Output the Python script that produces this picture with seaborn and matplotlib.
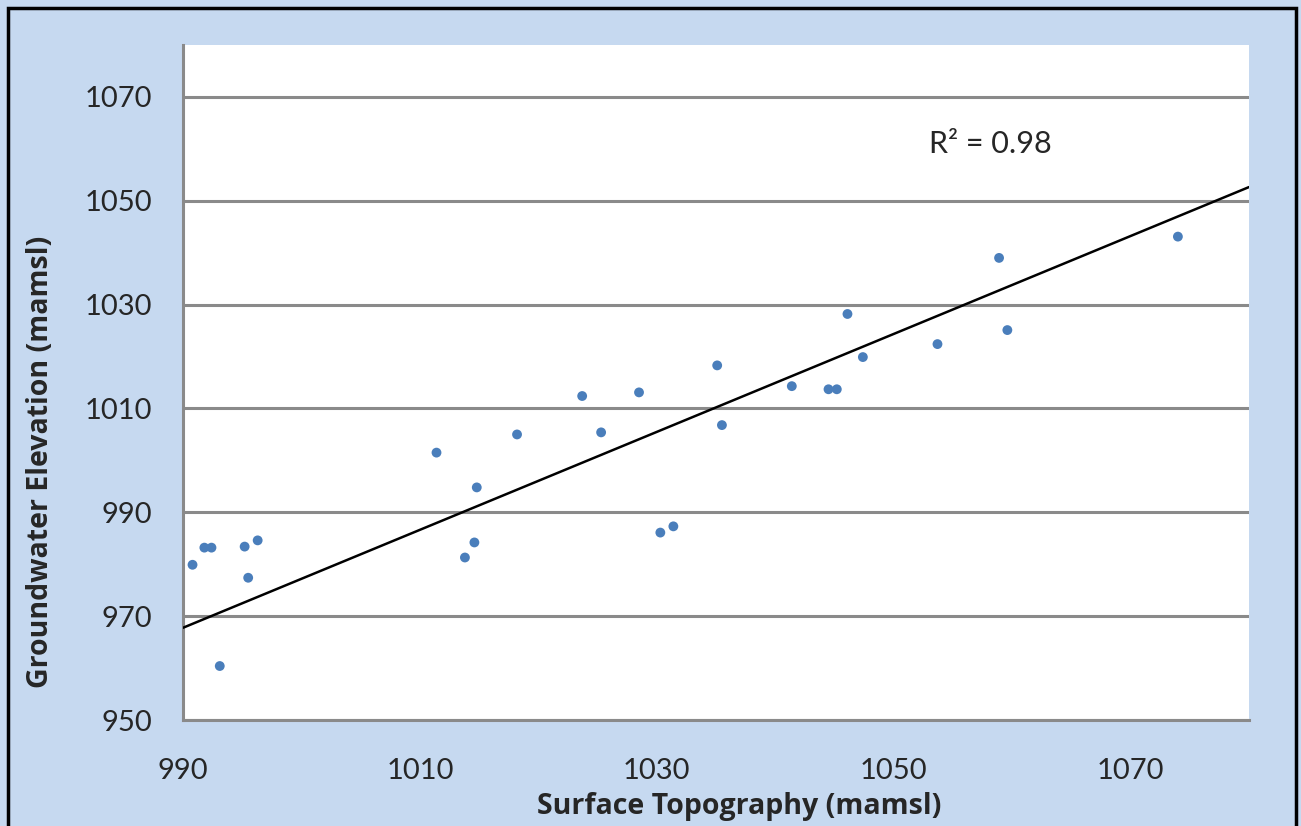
"""
Groundwater elevation against surface topography, with linear trend
"""
import numpy as np
import pandas as pd
import seaborn as sns
import matplotlib.pyplot as plt
from matplotlib.patches import Rectangle

# Data (mamsl)
surface = [990.8, 991.8, 992.4, 993.1, 995.2, 995.5, 996.3, 1011.4, 1013.8, 1014.6,
           1014.8, 1018.2, 1023.7, 1025.3, 1028.5, 1030.3, 1031.4, 1035.1, 1035.5, 1041.4,
           1044.5, 1045.2, 1046.1, 1047.4, 1053.7, 1058.9, 1059.6, 1074.0]
groundwater = [979.9, 983.2, 983.2, 960.4, 983.4, 977.4, 984.6, 1001.5, 981.3, 984.2,
               994.8, 1005.0, 1012.4, 1005.4, 1013.1, 986.1, 987.3, 1018.3, 1006.8, 1014.3,
               1013.7, 1013.7, 1028.2, 1019.9, 1022.4, 1039.0, 1025.1, 1043.1]
x_ticks = [990, 1010, 1030, 1050, 1070]
y_ticks = [950, 970, 990, 1010, 1030, 1050, 1070]

# trendline as drawn in the original (Excel linear trend)
trend_slope = 0.943
trend_intercept = 34.2
r2_label = "R² = 0.98"

df = pd.DataFrame({'surface': surface, 'groundwater': groundwater})

sns.set_theme()
sns.set_style("white")
plt.rcParams['font.family'] = ['Lato', 'DejaVu Sans']

bg = '#c6d9f0'
grid_col = '#8a8a8a'
txt = '#262626'
label_font = ['Open Sans', 'DejaVu Sans']

fig = plt.figure(figsize=(13.01, 8.26), dpi=100, facecolor=bg)
ax = fig.add_axes([0.1407, 0.1283, 0.8193, 0.8172])
ax.set_facecolor('white')

# horizontal gridlines
for y in y_ticks:
    ax.axhline(y, color=grid_col, lw=2.2, zorder=1)

sns.scatterplot(
    ax=ax,
    data=df,
    x='surface',
    y='groundwater',
    s=50,
    color='#4a7ebb',
    edgecolor='none',
    zorder=3,
)

ax.axline((0, trend_intercept), slope=trend_slope, color='black', lw=1.8, zorder=4)

ax.set_xlim(990, 1080)
ax.set_ylim(950, 1080)
ax.set_xticks(x_ticks)
ax.set_yticks(y_ticks)

for side in ['top', 'right']:
    ax.spines[side].set_visible(False)
for side in ['left', 'bottom']:
    ax.spines[side].set_color(grid_col)
    ax.spines[side].set_linewidth(2.2)

ax.tick_params(axis='both', direction='out', length=8, width=2, color=grid_col)
ax.tick_params(axis='y', pad=14, labelsize=21, labelcolor=txt)
ax.tick_params(axis='x', pad=19, labelsize=21, labelcolor=txt)

ax.set_xlabel('Surface Topography (mamsl)', fontsize=20.5, fontweight='bold',
              family=label_font, color=txt)
ax.set_ylabel('Groundwater Elevation (mamsl)', fontsize=20.5, fontweight='bold',
              family=label_font, color=txt)
ax.xaxis.label.set_va('baseline')
ax.xaxis.set_label_coords(0.5216, -0.139)
ax.yaxis.set_label_coords(-0.12, 0.382)

ax.text(1058.2, 1061.0, r2_label, fontsize=22, ha='center', va='center', color=txt)

# outer black frame
fig.patches.append(Rectangle((0.006, -0.01), 0.99, 1.0, transform=fig.transFigure,
                             fill=False, edgecolor='black', lw=2.5, zorder=10))

plt.savefig('out.png', dpi=100, facecolor=bg)
